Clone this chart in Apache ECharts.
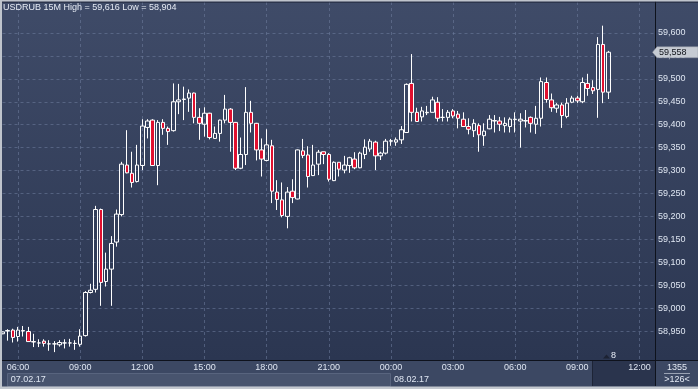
<!DOCTYPE html>
<html><head><meta charset="utf-8">
<script src="https://cdn.jsdelivr.net/npm/echarts@6/dist/echarts.min.js"></script>
<style>html,body{margin:0;padding:0;background:#34405b;}#c{width:698px;height:389px;}</style>
</head><body><div id="c"></div>
<script>
// ---- data ----
const symbolName = 'USDRUB 15M';
const startMinute = 5 * 60 + 15;      // first bar: 07.02.17 05:15
const slotCount = 127;                 // visible bar slots incl. shift
const dayNames = ['07.02.17', '08.02.17'];
const openV = [58.944,58.950,58.952,58.938,58.951,58.949,58.927,58.924,58.928,58.922,
  58.922,58.920,58.924,58.924,58.923,58.921,58.940,59.034,59.041,59.215,
  59.058,59.085,59.144,59.204,59.312,59.294,59.276,59.311,59.394,59.410,
  59.311,59.405,59.392,59.387,59.450,59.455,59.458,59.469,59.416,59.401,
  59.425,59.370,59.381,59.410,59.434,59.405,59.305,59.335,59.427,59.403,
  59.345,59.322,59.354,59.253,59.236,59.200,59.255,59.238,59.343,59.334,
  59.289,59.314,59.341,59.335,59.278,59.318,59.301,59.311,59.325,59.306,
  59.335,59.347,59.362,59.332,59.338,59.364,59.362,59.367,59.383,59.490,
  59.427,59.417,59.426,59.427,59.449,59.416,59.416,59.430,59.423,59.412,
  59.396,59.387,59.398,59.376,59.391,59.409,59.408,59.398,59.396,59.411,
  59.408,59.408,59.416,59.401,59.414,59.492,59.454,59.436,59.443,59.418,
  59.449,59.458,59.450,59.490,59.481,59.477,59.575,59.471];
const closeV = [58.948,58.951,58.936,58.952,58.950,58.927,58.926,58.924,58.923,58.922,
  58.922,58.925,58.924,58.924,58.923,58.939,59.034,59.039,59.215,59.056,
  59.085,59.141,59.205,59.314,59.295,59.274,59.312,59.397,59.408,59.311,
  59.405,59.392,59.385,59.450,59.454,59.456,59.469,59.416,59.403,59.425,
  59.372,59.381,59.410,59.434,59.405,59.305,59.335,59.427,59.403,59.345,
  59.325,59.356,59.255,59.237,59.202,59.253,59.241,59.345,59.333,59.287,
  59.312,59.340,59.335,59.281,59.318,59.303,59.312,59.328,59.306,59.338,
  59.351,59.364,59.332,59.338,59.364,59.365,59.367,59.389,59.488,59.427,
  59.407,59.430,59.427,59.454,59.414,59.416,59.427,59.419,59.414,59.396,
  59.390,59.403,59.378,59.386,59.412,59.408,59.401,59.403,59.412,59.412,
  59.412,59.409,59.403,59.414,59.494,59.455,59.437,59.443,59.420,59.447,
  59.458,59.452,59.492,59.479,59.474,59.575,59.471,59.558];
const lowV = [58.943,58.929,58.925,58.927,58.938,58.927,58.915,58.915,58.916,58.907,
  58.904,58.916,58.912,58.916,58.909,58.916,58.938,59.032,59.034,59.005,
  59.047,59.005,59.134,59.200,59.294,59.263,59.274,59.301,59.370,59.310,
  59.268,59.378,59.356,59.385,59.423,59.410,59.428,59.403,59.367,59.374,
  59.368,59.370,59.363,59.403,59.341,59.301,59.303,59.312,59.383,59.322,
  59.287,59.320,59.229,59.214,59.198,59.174,59.229,59.237,59.327,59.263,
  59.288,59.290,59.314,59.276,59.277,59.287,59.294,59.295,59.303,59.305,
  59.325,59.341,59.301,59.323,59.335,59.354,59.354,59.358,59.382,59.407,
  59.406,59.407,59.421,59.427,59.407,59.407,59.407,59.414,59.392,59.395,
  59.379,59.373,59.341,59.354,59.390,59.383,59.386,59.383,59.383,59.383,
  59.350,59.394,59.383,59.380,59.396,59.448,59.428,59.426,59.393,59.414,
  59.447,59.447,59.447,59.463,59.467,59.415,59.447,59.456];
const highV = [58.949,58.954,58.955,58.959,58.961,58.959,58.944,58.932,58.932,58.930,
  58.928,58.930,58.932,58.933,58.930,58.954,59.037,59.053,59.223,59.217,
  59.121,59.157,59.215,59.319,59.388,59.341,59.356,59.412,59.412,59.412,
  59.410,59.412,59.396,59.490,59.489,59.483,59.477,59.470,59.436,59.438,
  59.426,59.396,59.411,59.465,59.436,59.406,59.372,59.482,59.452,59.404,
  59.370,59.390,59.367,59.279,59.274,59.264,59.281,59.346,59.369,59.353,
  59.356,59.345,59.341,59.338,59.320,59.318,59.332,59.330,59.340,59.341,
  59.368,59.369,59.365,59.341,59.369,59.369,59.372,59.397,59.490,59.554,
  59.437,59.439,59.441,59.461,59.460,59.434,59.432,59.434,59.430,59.427,
  59.414,59.412,59.403,59.403,59.421,59.421,59.417,59.416,59.416,59.427,
  59.425,59.432,59.418,59.441,59.503,59.503,59.468,59.447,59.448,59.458,
  59.463,59.463,59.503,59.511,59.497,59.591,59.616,59.561];
const yTicks = [58.95,59.00,59.05,59.10,59.15,59.20,59.25,59.30,59.35,59.40,59.45,59.50,59.55,59.60];
const yMin = 58.8868, yMax = 59.6676;
const shiftLabel = '8';
const infoTop = '1355', infoBottom = '>126<';

// ---- build ----
const pad = n => (n < 10 ? '0' : '') + n;
const categories = [];
for (let i = 0; i < slotCount; i++) {
  const m = startMinute + 15 * i;
  const day = dayNames[Math.floor(m / 1440)];
  const mm = m % 1440;
  categories.push(day + ' ' + pad(Math.floor(mm / 60)) + ':' + pad(mm % 60));
}
const timeOf = c => c.split(' ')[1];
const dateOf = c => c.split(' ')[0];
const minutesOf = c => { const t = timeOf(c).split(':'); return (+t[0]) * 60 + (+t[1]); };
const isMajor = c => minutesOf(c) % 180 === 0;
const candles = openV.map((o, i) => [o, closeV[i], lowV[i], highV[i]]);
const fmt = v => v.toFixed(3).replace('.', ',');
const hi = Math.max(...highV), lo = Math.min(...lowV);
const lastClose = closeV[closeV.length - 1];

const FONT = 'Liberation Sans, Arial, sans-serif';
const TXT = '#dfe6f2';
const chart = echarts.init(document.getElementById('c'), null, {renderer: 'canvas'});

const option = {
  animation: false,
  title: {
    text: symbolName + ' High = ' + fmt(hi) + ' Low = ' + fmt(lo),
    left: 3, top: 3, padding: 0,
    textStyle: {color: '#e6ebf4', fontSize: 9, fontWeight: 'normal', fontFamily: FONT}
  },
  grid: {left: 2.5, right: 43, top: 2, bottom: 29},
  xAxis: [{
    type: 'category', data: categories, boundaryGap: false,
    axisLine: {show: true, lineStyle: {color: '#0e121c', width: 1}},
    axisTick: {show: false},
    axisLabel: {
      interval: (i, v) => isMajor(v),
      formatter: v => timeOf(v),
      color: (v, i) => (i >= openV.length ? '#79839a' : TXT),
      fontSize: 9, fontFamily: FONT, margin: 3
    },
    splitLine: {show: true, interval: (i, v) => isMajor(v),
      lineStyle: {color: 'rgba(112,126,158,0.55)', type: [3, 3], width: 1}}
  }, {
    type: 'category', data: categories, boundaryGap: false, position: 'bottom', offset: 12,
    axisLine: {show: false}, axisTick: {show: false}, splitLine: {show: false},
    axisLabel: {
      interval: (i, v) => i === 1 || timeOf(v) === '00:00',
      formatter: v => dateOf(v),
      align: 'left', padding: [0, 0, 0, 3],
      color: TXT, fontSize: 9, fontFamily: FONT, margin: 3
    }
  }],
  yAxis: {
    type: 'value', position: 'right', min: yMin, max: yMax, scale: true,
    axisLine: {show: true, lineStyle: {color: '#0e121c', width: 1}},
    axisTick: {show: false, customValues: yTicks},
    axisLabel: {customValues: yTicks, formatter: v => fmt(v), color: TXT,
      fontSize: 9, fontFamily: FONT, margin: 3},
    splitLine: {show: true, lineStyle: {color: 'rgba(112,126,158,0.55)', type: [3, 3], width: 1}}
  },
  series: [{
    type: 'candlestick', data: candles, barWidth: 4, clip: true,
    itemStyle: {color: 'rgba(0,0,0,0)', color0: '#e0102f', borderColor: '#ffffff', borderColor0: '#ffffff', borderWidth: 1}
  }]
};
chart.setOption(option);

function buildGraphics() {
  const yc = chart.convertToPixel({yAxisIndex: 0}, lastClose);
  return [
    {type: 'rect', z: -20, silent: true, shape: {x: 0, y: 0, width: 698, height: 360},
      style: {fill: new echarts.graphic.LinearGradient(0, 0, 0, 1, [{offset: 0, color: '#3f4b68'}, {offset: 1, color: '#2b3651'}])}},
    {type: 'rect', z: -19, silent: true, shape: {x: 0, y: 360, width: 698, height: 29}, style: {fill: '#3c4863'}},
    {type: 'rect', z: -18, silent: true, shape: {x: 7.5, y: 373.5, width: 383, height: 13}, style: {fill: '#48546e', stroke: '#58647e', lineWidth: 1}},
    {type: 'rect', z: -18, silent: true, shape: {x: 593, y: 361, width: 62, height: 25}, style: {fill: '#2a344d'}},
    {type: 'line', z: -17, silent: true, shape: {x1: 592.5, y1: 361, x2: 592.5, y2: 386}, style: {stroke: '#1d2436', lineWidth: 1}},
    {type: 'line', z: 20, silent: true, shape: {x1: 0, y1: 360.5, x2: 698, y2: 360.5}, style: {stroke: '#0e121c', lineWidth: 1}},
    {type: 'line', z: 20, silent: true, shape: {x1: 655.5, y1: 0, x2: 655.5, y2: 386}, style: {stroke: '#0e121c', lineWidth: 1}},
    {type: 'line', z: 20, silent: true, shape: {x1: 0, y1: 2, x2: 698, y2: 2}, style: {stroke: '#1a2132', lineWidth: 1}},
    {type: 'rect', z: 21, silent: true, shape: {x: 0, y: 0, width: 698, height: 1.5}, style: {fill: '#bfc4cc'}},
    {type: 'rect', z: 21, silent: true, shape: {x: 0, y: 0, width: 2, height: 389}, style: {fill: '#bfc4cc'}},
    {type: 'rect', z: 21, silent: true, shape: {x: 0, y: 386.5, width: 698, height: 3}, style: {fill: '#c3c8cf'}},
    // last price marker
    {type: 'polygon', z: 22, silent: true, shape: {points: [[652.5, yc], [657, yc - 5.5], [698, yc - 5.5], [698, yc + 5.5], [657, yc + 5.5]]},
      style: {fill: '#c6cbd3', stroke: '#8e95a3', lineWidth: 0.5}},
    {type: 'text', z: 23, silent: true, x: 659, y: yc, style: {text: fmt(lastClose), fill: '#10131a', fontSize: 9, fontFamily: FONT, verticalAlign: 'middle', align: 'left'}},
    // shift marker
    {type: 'polygon', z: 22, silent: true, shape: {points: [[603, 358.5], [610, 358.5], [606.5, 354.5]]}, style: {fill: '#1c2233'}},
    {type: 'text', z: 23, silent: true, x: 611, y: 356, style: {text: shiftLabel, fill: '#e8eef8', fontSize: 9, fontFamily: FONT, verticalAlign: 'middle', align: 'left'}},
    // info panel
    {type: 'text', z: 23, silent: true, x: 677, y: 367.5, style: {text: infoTop, fill: '#e3e9f3', fontSize: 9, fontFamily: FONT, verticalAlign: 'middle', align: 'center'}},
    {type: 'line', z: 23, silent: true, shape: {x1: 664, y1: 373.5, x2: 690, y2: 373.5}, style: {stroke: '#9aa3b4', lineWidth: 1}},
    {type: 'text', z: 23, silent: true, x: 677, y: 380, style: {text: infoBottom, fill: '#e3e9f3', fontSize: 9, fontFamily: FONT, verticalAlign: 'middle', align: 'center'}}
  ];
}
chart.setOption({graphic: buildGraphics()});
</script></body></html>
